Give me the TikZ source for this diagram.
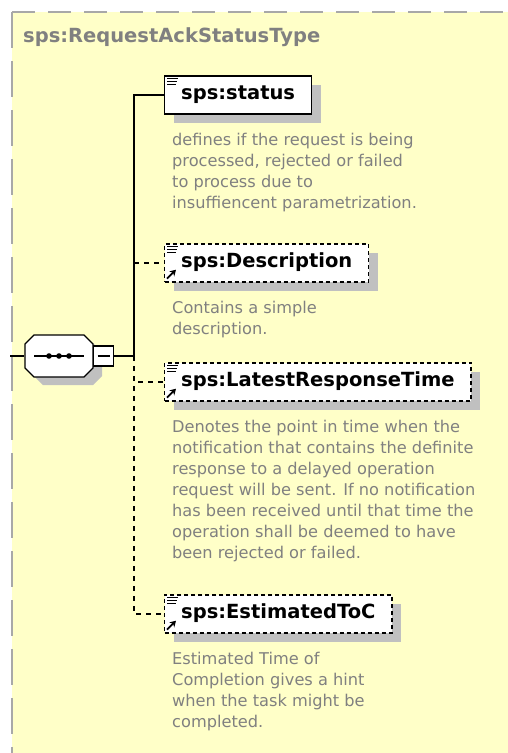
\documentclass[tikz,border=0pt]{standalone}
\usepackage{fontspec}
\setmainfont{DejaVu Sans}
\usepackage{tikz}
\usepackage{xcolor}
\usetikzlibrary{positioning,shapes.misc,shadows,arrows.meta}
\definecolor{schemayellow}{HTML}{FFFFC8}
\definecolor{bordergray}{HTML}{A8A8A8}
\definecolor{docgray}{HTML}{808080}
\definecolor{shadowgray}{HTML}{C0C0C0}
\tikzset{
    type-title/.style = {text=docgray, inner sep=0pt, font=\fontsize{19.5}{23}\selectfont\bfseries},
    element-box/.style = {draw=black, fill=white, line width=1.4pt, rectangle, anchor=west, inner xsep=16.5pt, inner ysep=9.5pt, text height=14pt, text depth=5pt, font=\fontsize{19.5}{23}\selectfont\bfseries, general shadow={fill=shadowgray, shadow xshift=9pt, shadow yshift=-9pt}},
    element-box-opt/.style = {element-box, dash pattern=on 4pt off 3pt},
    doc-text/.style = {text=docgray, align=left, inner sep=0pt, font=\fontsize{16.2}{21}\selectfont},
    seq-box/.style = {draw=black, fill=white, line width=1.4pt, chamfered rectangle, chamfered rectangle xsep=4.5pt, chamfered rectangle ysep=4.5pt, inner xsep=29.5pt, inner ysep=16.5pt, minimum width=0pt, minimum height=0pt, general shadow={fill=shadowgray, shadow xshift=9pt, shadow yshift=-8pt}},
    fold-box/.style = {draw=black, fill=white, line width=1.4pt, rectangle, minimum size=20pt, inner sep=0pt},
    link/.style = {line width=1.4pt},
    opt-link/.style = {dash pattern=on 5pt off 5pt},
    icon-line/.style = {line width=1.3pt},
    ref-arrow/.style = {line width=1.8pt, -{Stealth[length=6pt,width=7pt]}},
}
\begin{document}
\begin{tikzpicture}[x=1pt, y=-1pt]
\useasboundingbox (0,0) rectangle (508,753);
\fill[schemayellow] (12,12) rectangle (508,753);
\draw[bordergray, line width=2pt, dash pattern=on 23pt off 13pt] (12,12) -- (508,12);
\draw[bordergray, line width=2pt, dash pattern=on 36pt off 13pt] (12,12) -- (12,753);

\node[type-title, anchor=west] (title) at (23,37) {sps:RequestAckStatusType};

\node[element-box] (status) at (164,95) {sps:status};
\node[element-box-opt] (descr) at (164,263) {sps:Description};
\node[element-box-opt] (latest) at (164,382) {sps:LatestResponseTime};
\node[element-box-opt] (estim) at (164,614) {sps:EstimatedToC};

\node[doc-text, below right=18pt and 8pt of status.south west] (status-doc) {defines if the request is being\\processed, rejected or failed\\to process due to\\insuffiencent parametrization.};
\node[doc-text, below right=18pt and 8pt of descr.south west] (descr-doc) {Contains a simple\\description.};
\node[doc-text, below right=18pt and 8pt of latest.south west] (latest-doc) {Denotes the point in time when the\\notification that contains the definite\\response to a delayed operation\\request will be sent. If no notification\\has been received until that time the\\operation shall be deemed to have\\been rejected or failed.};
\node[doc-text, below right=18pt and 8pt of estim.south west] (estim-doc) {Estimated Time of\\Completion gives a hint\\when the task might be\\completed.};

\foreach \el in {status,descr,latest,estim}
  \foreach \dy/\len in {3/11,6/10,9/9}
    \draw[icon-line] ([shift={(3,\dy)}]\el.north west) -- ++(\len,0);
\foreach \el in {descr,latest,estim}
  \draw[ref-arrow] ([shift={(3,-4)}]\el.south west) -- ++(9,-9);

\node[seq-box] (comp) at (59,356) {};
\node[fold-box, right=-0.7pt of comp] (fold) {};
\draw[link] ([xshift=-25pt]comp.center) -- ([xshift=25pt]comp.center);
\foreach \dx in {-10,0,10}
  \fill ([xshift=\dx pt]comp.center) circle (2.8pt);
\draw[link] ([xshift=-6pt]fold.center) -- ([xshift=6pt]fold.center);

\coordinate (stub) at (10,356);
\coordinate (spine) at (134,356);
\draw[link] (stub) -- (comp.west);
\draw[link] (fold.east) -- (spine) |- (status.west);
\draw[link, opt-link] (spine |- descr.west) -- (descr.west);
\draw[link, opt-link] (spine) |- (latest.west);
\draw[link, opt-link] (spine) |- (estim.west);
\end{tikzpicture}
\end{document}
